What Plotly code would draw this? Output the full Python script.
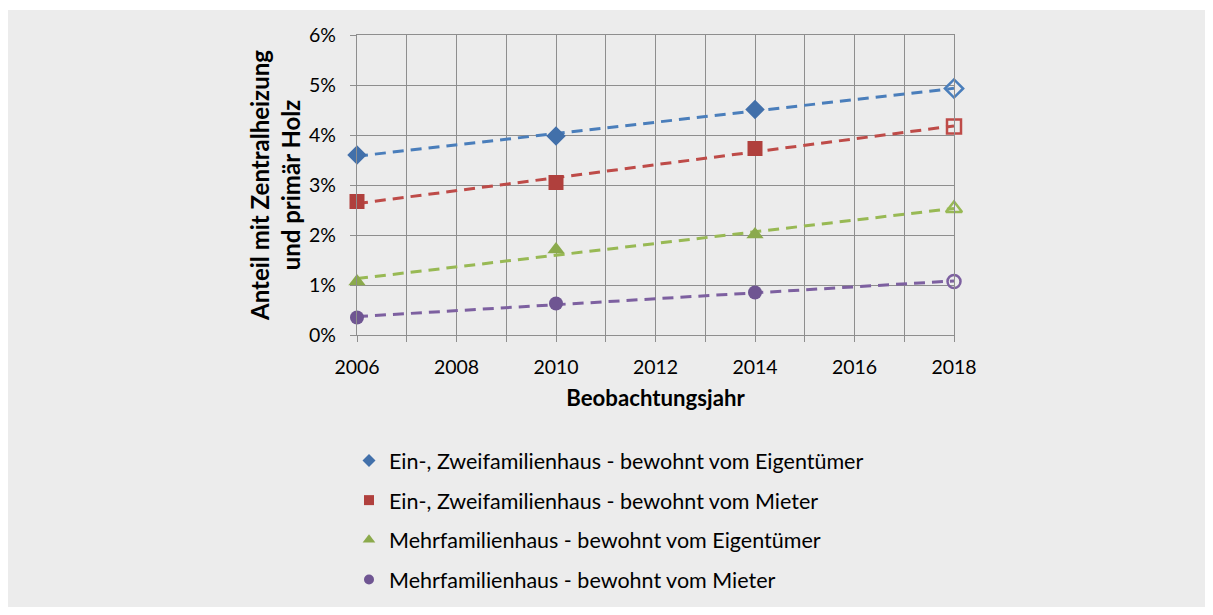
import numpy as np
import plotly.graph_objects as go

years = [2006, 2010, 2014]
proj_year = [2018]
series_names = [
    "Ein-, Zweifamilienhaus - bewohnt vom Eigentümer",
    "Ein-, Zweifamilienhaus - bewohnt vom Mieter",
    "Mehrfamilienhaus - bewohnt vom Eigentümer",
    "Mehrfamilienhaus - bewohnt vom Mieter",
]
efh_eigentuemer = [3.60, 3.98, 4.51]
efh_mieter = [2.67, 3.05, 3.73]
mfh_eigentuemer = [1.07, 1.71, 2.01]
mfh_mieter = [0.35, 0.63, 0.85]
proj_2018 = [4.93, 4.17, 2.53, 1.07]

values = [efh_eigentuemer, efh_mieter, mfh_eigentuemer, mfh_mieter]
line_colors = ["#4A7EBB", "#BE4B48", "#98B954", "#7D60A0"]
marker_colors = ["#4270AA", "#B0403D", "#8BAA4C", "#6F5592"]
symbols = ["diamond", "square", "triangle-up", "circle"]
sizes = [15, 15, 15, 14]
legend_sizes = [10, 10, 11, 10]

FONT = "Lato"
fig = go.Figure()

for i, name in enumerate(series_names):
    xs = years + proj_year
    ys = values[i] + [proj_2018[i]]
    coef = np.polyfit(xs, ys, 1)
    tx = [xs[0], xs[-1]]
    ty = list(np.polyval(coef, tx))
    fig.add_trace(go.Scatter(
        x=tx, y=ty, mode="lines", showlegend=False, hoverinfo="skip",
        line=dict(color=line_colors[i], width=3, dash="11px,7px"),
    ))

for i, name in enumerate(series_names):
    fig.add_trace(go.Scatter(
        x=years, y=values[i], mode="markers", showlegend=False, cliponaxis=False,
        marker=dict(symbol=symbols[i], size=sizes[i], color=marker_colors[i]),
    ))
    fig.add_trace(go.Scatter(
        x=proj_year, y=[proj_2018[i]], mode="markers", showlegend=False, cliponaxis=False,
        marker=dict(symbol=symbols[i] + "-open", size=sizes[i] - 1, color=line_colors[i],
                    line=dict(width=2.5, color=line_colors[i])),
    ))
    # legend-only entry
    fig.add_trace(go.Scatter(
        x=[None], y=[None], mode="markers", name=name, legendgroup=str(i),
        marker=dict(symbol=symbols[i], size=legend_sizes[i], color=marker_colors[i]),
    ))

# the page has an 8px body margin, so the figure is placed at (8, 8);
# keep the figure inside the 1213x615 window so no scrolling/scaling happens
OFF = 8
W, H = 1213 - 2 * OFF, 615 - 2 * OFF
L, T = 357 - OFF, 35 - OFF
pw, ph = 597, 300
R, B = W - L - pw, H - T - ph

fig.add_shape(type="rect", xref="paper", yref="paper", layer="below",
              x0=(0 - L) / pw - 0.01, x1=(W - L) / pw + 0.01,
              y0=-(H - T - ph) / ph - 0.01, y1=1 + (T - 2) / ph,
              fillcolor="#ECECEC", line=dict(width=0))

fig.update_layout(
    width=W, height=H,
    margin=dict(l=L, r=R, t=T, b=B, autoexpand=False),
    paper_bgcolor="white", plot_bgcolor="white",
    font=dict(family=FONT, size=19, color="#000000"),
    showlegend=True,
    legend=dict(x=(349 - OFF - L) / pw, y=-(440 - OFF - T - ph) / ph,
                xanchor="left", yanchor="top",
                bgcolor="rgba(0,0,0,0)", font=dict(size=21.5, family=FONT),
                tracegroupgap=8.7, itemwidth=30),
    xaxis=dict(range=[2006, 2018], tickmode="linear", tick0=2006, dtick=2,
               showgrid=True, gridcolor="#8E8E8E", gridwidth=1.3,
               minor=dict(dtick=1, showgrid=True, gridcolor="#8E8E8E", gridwidth=1.3,
                          ticks="outside", ticklen=6, tickcolor="#8E8E8E"),
               ticks="outside", ticklen=6, tickcolor="#8E8E8E", tickwidth=1.3,
               ticklabelstandoff=8,
               showline=True, linecolor="#8E8E8E", linewidth=1.3, mirror=True,
               zeroline=False,
               title=dict(text="<b>Beobachtungsjahr</b>", font=dict(size=22.2, family=FONT), standoff=13),
               tickfont=dict(size=19.5)),
    yaxis=dict(range=[0, 6], tickmode="linear", tick0=0, dtick=1, ticksuffix="%",
               showgrid=True, gridcolor="#8E8E8E", gridwidth=1.3,
               ticks="outside", ticklen=6, tickcolor="#8E8E8E", tickwidth=1.3,
               ticklabelstandoff=10,
               showline=True, linecolor="#8E8E8E", linewidth=1.3, mirror=True,
               zeroline=False,
               title=dict(text="<b>Anteil mit Zentralheizung<br>und primär Holz</b>",
                          font=dict(size=24, family=FONT), standoff=1),
               tickfont=dict(size=19.5)),
)

fig.write_html("out.html")
